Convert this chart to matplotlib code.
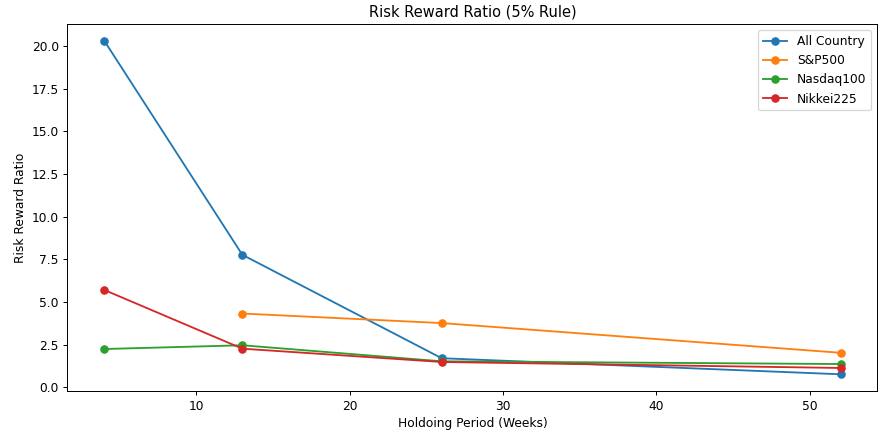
import matplotlib
matplotlib.use("Agg")
import matplotlib.pyplot as plt

weeks_all = [4, 13, 26, 52]
all_country = [20.3, 7.76, 1.70, 0.76]
weeks_sp = [13, 26, 52]
sp500 = [4.32, 3.76, 2.02]
nasdaq100 = [2.24, 2.46, 1.52, 1.36]
nikkei225 = [5.70, 2.26, 1.48, 1.13]

fig, ax = plt.subplots(figsize=(10, 4.91), dpi=88)
ax.plot(weeks_all, all_country, marker='o', label='All Country')
ax.plot(weeks_sp, sp500, marker='o', label='S&P500')
ax.plot(weeks_all, nasdaq100, marker='o', label='Nasdaq100')
ax.plot(weeks_all, nikkei225, marker='o', label='Nikkei225')
ax.set_title('Risk Reward Ratio (5% Rule)')
ax.set_xlabel('Holdoing Period (Weeks)')
ax.set_ylabel('Risk Reward Ratio')
ax.legend()
fig.subplots_adjust(left=0.0767, right=0.997, top=0.944, bottom=0.095)
fig.savefig('out.png')
